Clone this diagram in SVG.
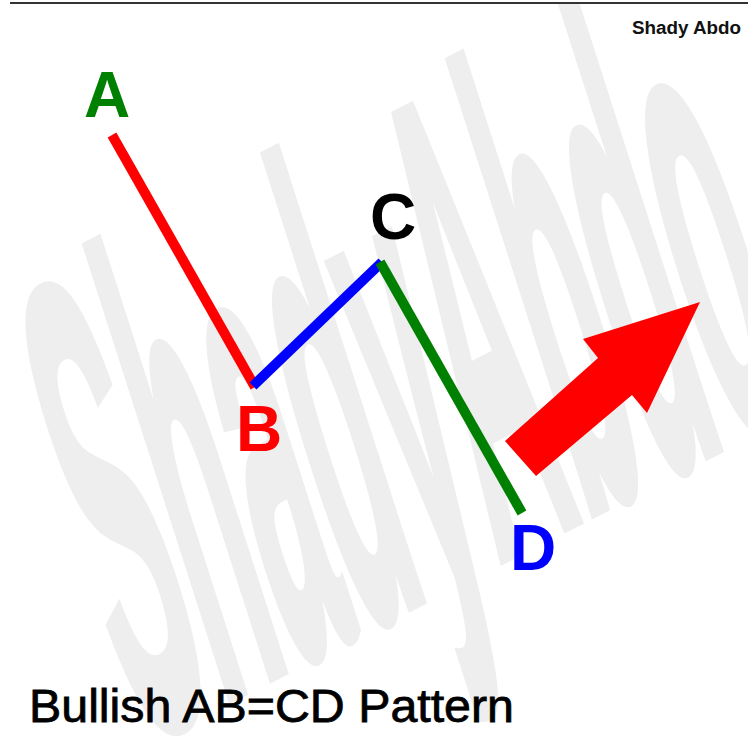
<svg xmlns="http://www.w3.org/2000/svg" width="748" height="753" viewBox="0 0 748 753">
<style>
.lbl{font-family:"Liberation Sans",Arial,Helvetica,sans-serif;font-weight:bold;font-size:64px}
.seg{fill:none;stroke-width:10;stroke-linecap:butt;stroke-linejoin:miter}
</style>
<defs>
<clipPath id="wmclip"><rect x="10" y="4" width="738" height="749"/></clipPath>
</defs>
<rect x="0" y="0" width="748" height="753" fill="#ffffff"/>
<g id="watermark" clip-path="url(#wmclip)">
<g transform="matrix(0.198,-0.101,0.330,1.030,400,352)">
<text x="0" y="215" text-anchor="middle" font-family="Liberation Sans, Arial, sans-serif" font-weight="bold" font-size="600" fill="#eeeeee" stroke="#eeeeee" stroke-width="10" vector-effect="non-scaling-stroke">ShadyAbdo</text>
</g>
</g>
<line id="top-border" x1="10" y1="3" x2="748" y2="3" stroke="#333333" stroke-width="2"/>
<text id="author" x="632" y="34" font-family="Liberation Sans, Arial, sans-serif" font-weight="bold" font-size="18" fill="#111111" textLength="109" lengthAdjust="spacingAndGlyphs">Shady Abdo</text>
<g id="connectors">
<line class="seg" x1="112" y1="135" x2="255" y2="387" stroke="#ff0000"/>
<line class="seg" x1="253" y1="386" x2="382" y2="262" stroke="#0000ff"/>
<line class="seg" x1="380" y1="262" x2="522" y2="513" stroke="#008000"/>
</g>
<g id="node-A"><text class="lbl" x="84" y="117" fill="#008000">A</text></g>
<g id="node-B"><text class="lbl" x="236" y="451" fill="#ff0000">B</text></g>
<g id="node-C"><text class="lbl" x="370" y="239" fill="#000000">C</text></g>
<g id="node-D"><text class="lbl" x="510" y="570" fill="#0000ff">D</text></g>
<g id="arrow"><polygon points="505,441 536,476 632,395 647,413 700,302 583,339 598,358" fill="#ff0000"/></g>
<text id="title" x="29" y="722" font-family="Liberation Sans, Arial, sans-serif" font-size="46" fill="#000000" stroke="#000000" stroke-width="0.8" textLength="485" lengthAdjust="spacingAndGlyphs">Bullish AB=CD Pattern</text>
</svg>
